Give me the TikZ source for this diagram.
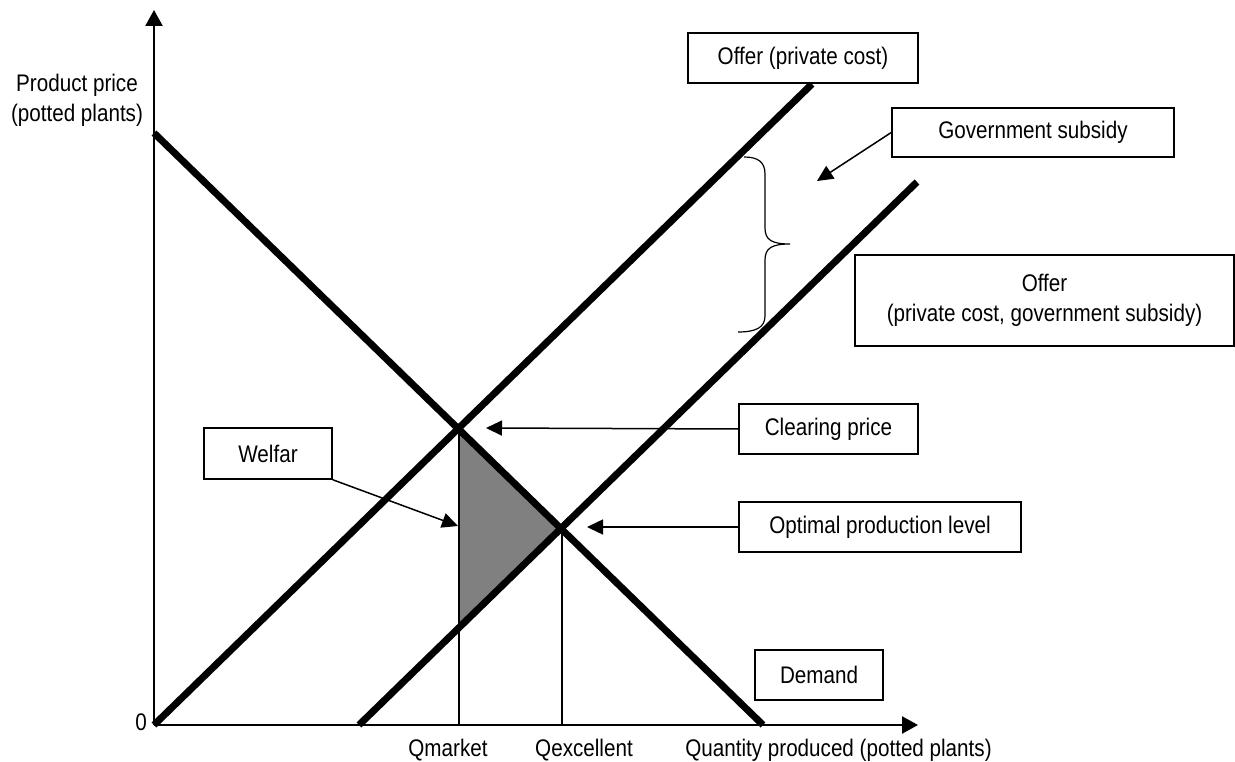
\documentclass[tikz,border=0pt]{standalone}
\usepackage{fontspec}
\setmainfont[FakeStretch=0.86]{Liberation Sans}
\usetikzlibrary{arrows.meta,positioning}

\begin{document}
\begin{tikzpicture}[x=1pt, y=-1pt,
    every node/.style={font=\fontsize{24}{30}\selectfont},
    box/.style={draw, line width=1.5pt, fill=white, inner sep=0pt, minimum height=50pt, align=center},
    curve/.style={line width=7pt},
    guide/.style={line width=1.3pt},
    pointer/.style={line width=1.5pt, -{Triangle[length=16pt,width=15pt]}},
    axis/.style={line width=2.4pt, -{Triangle[length=16pt,width=17pt]}}]
    \useasboundingbox (0,0) rectangle (1235,762);

    % axes
    \coordinate (O) at (154,725);
    \coordinate (ytop) at (154,10);
    \coordinate (xend) at (918,725);
    \draw[axis] (O) -- (ytop);
    \draw[axis] (O) -- (xend);
    \node (zero) at (141,722) {0};
    \node[align=center] (price) at (77,100) {Product price\\(potted plants)};
    \node (qty) at (838.5,750) {Quantity produced (potted plants)};

    % curves
    \coordinate (dtop) at (154,133);
    \coordinate (dend) at (763,725);
    \coordinate (stop) at (812,84);
    \coordinate (tstart) at (359,725);
    \coordinate (ttop) at (917,182);
    \coordinate (C) at (459,428);
    \coordinate (E) at (562,527);
    \coordinate (L) at (459,627);
    \coordinate (Qm) at (459,725);
    \coordinate (Qe) at (562,725);

    \fill[gray] (C) -- (E) -- (L) -- cycle;
    \draw[guide] (C) -- (Qm);
    \draw[guide] (E) -- (Qe);
    \draw[curve] (dtop) -- (dend);
    \draw[curve] (O) -- (stop);
    \draw[curve] (tstart) -- (ttop);
    \node (qmarket) at (448,750) {Qmarket};
    \node (qexc) at (584,750) {Qexcellent};

    % brace between the two offers
    \draw[line width=1.2pt] (744,157) .. controls (758,157) and (765,162) .. (765,174)
        -- (765,228) .. controls (765,240) and (772,244) .. (790,244)
        .. controls (772,244) and (765,248) .. (765,260)
        -- (765,316) .. controls (765,328) and (755,332) .. (738,332);

    % labels
    \node[box, minimum width=230pt] (offerpriv) at (803,58) {Offer (private cost)};
    \node[box, minimum width=282pt, minimum height=49pt] (subsidy) at (1033,132.5) {Government subsidy};
    \node[box, minimum width=379pt, minimum height=91pt] (offersub) at (1044.5,300.5) {Offer\\(private cost, government subsidy)};
    \node[box, minimum width=179pt] (clearing) at (828.5,429) {Clearing price};
    \node[box, minimum width=282pt] (optimal) at (880,527) {Optimal production level};
    \node[box, minimum width=128pt] (demand) at (819,675) {Demand};
    \node[box, minimum width=128pt, minimum height=51pt] (welfar) at (268,453.5) {Welfar};

    \coordinate (subtip) at (817,181);
    \coordinate (cleartip) at (486,428);
    \coordinate (opttip) at (587,527);
    \coordinate (weltip) at (458,526);
    \draw[pointer] (subsidy.west) -- (subtip);
    \draw[pointer] (clearing.west) -- (cleartip);
    \draw[pointer] (optimal.west) -- (opttip);
    \draw[pointer] (welfar.south east) -- (weltip);
\end{tikzpicture}
\end{document}
